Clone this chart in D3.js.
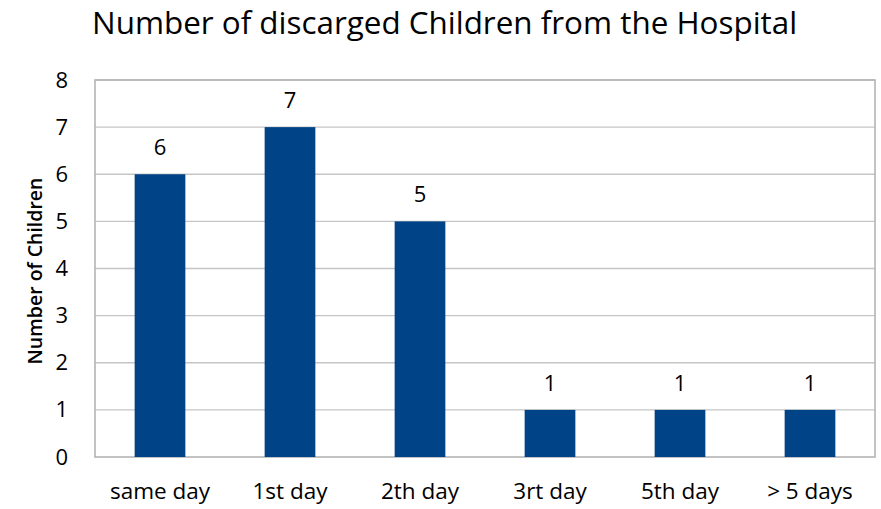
<!DOCTYPE html>
<html><head><meta charset="utf-8">
<script src="https://cdn.jsdelivr.net/npm/d3@7"></script>
<style>
html,body{margin:0;padding:0;background:#fff;}
text{font-family:"Open Sans",Lato,sans-serif;fill:#000;}
</style></head>
<body>
<svg id="chart" width="881" height="509"></svg>
<script>
const categories = ["same day","1st day","2th day","3rt day","5th day","> 5 days"];
const values = [6,7,5,1,1,1];
const yTicks = [0,1,2,3,4,5,6,7,8];
const titleText = "Number of discarged Children from the Hospital";
const yLabel = "Number of Children";

const svg = d3.select("#chart");
const m = {left:95, right:6, top:80, bottom:52};
const W = 881, H = 509;
const x = d3.scaleBand().domain(categories).range([m.left, W - m.right]).paddingInner(0.61).paddingOuter(0.305);
const y = d3.scaleLinear().domain([0,8]).range([H - m.bottom, m.top]);

// gridlines
svg.append("g").selectAll("line").data(yTicks.filter(d=>d>0)).join("line")
  .attr("x1", m.left).attr("x2", W - m.right)
  .attr("y1", d=>y(d)).attr("y2", d=>y(d))
  .attr("stroke", "#c6c6c6").attr("stroke-width", 1.3);

// plot border
svg.append("rect").attr("x", m.left).attr("y", y(8)).attr("width", W - m.right - m.left).attr("height", y(0)-y(8))
  .attr("fill","none").attr("stroke","#b4b4b4").attr("stroke-width",1.6);

// bars
svg.append("g").selectAll("rect").data(values).join("rect")
  .attr("x", (d,i)=>x(categories[i])).attr("width", x.bandwidth())
  .attr("y", d=>y(d)).attr("height", d=>y(0)-y(d))
  .attr("fill", "#004386");

// value labels
svg.append("g").selectAll("text").data(values).join("text")
  .attr("x", (d,i)=>x(categories[i]) + x.bandwidth()/2)
  .attr("y", d=>y(d) - 19)
  .attr("text-anchor","middle").attr("font-size", 22).text(d=>d);

// y axis
const yAxis = d3.axisLeft(y).tickValues(yTicks).tickSize(0).tickPadding(27).tickFormat(d3.format("d"));
const gy = svg.append("g").attr("transform", `translate(${m.left},0)`).call(yAxis);
gy.select(".domain").remove();
gy.selectAll("text").attr("font-size", 22).style("font-family","'Open Sans',sans-serif").attr("fill","#000");

// x axis
const xAxis = d3.axisBottom(x).tickSize(0);
const gx = svg.append("g").attr("transform", `translate(0,${y(0)})`).call(xAxis);
gx.select(".domain").remove();
gx.selectAll("text").attr("y", 42).attr("dy", null).attr("font-size", 22.5)
  .style("font-family","'Open Sans',sans-serif").attr("fill","#000");

// title
svg.append("text").attr("x", 92).attr("y", 34).attr("font-size", 31.4).text(titleText);

// y label
svg.append("text").attr("transform", "translate(42,271) rotate(-90)")
  .attr("text-anchor","middle").attr("font-size", 19.5).attr("font-weight","600").text(yLabel);
</script>
</body></html>
